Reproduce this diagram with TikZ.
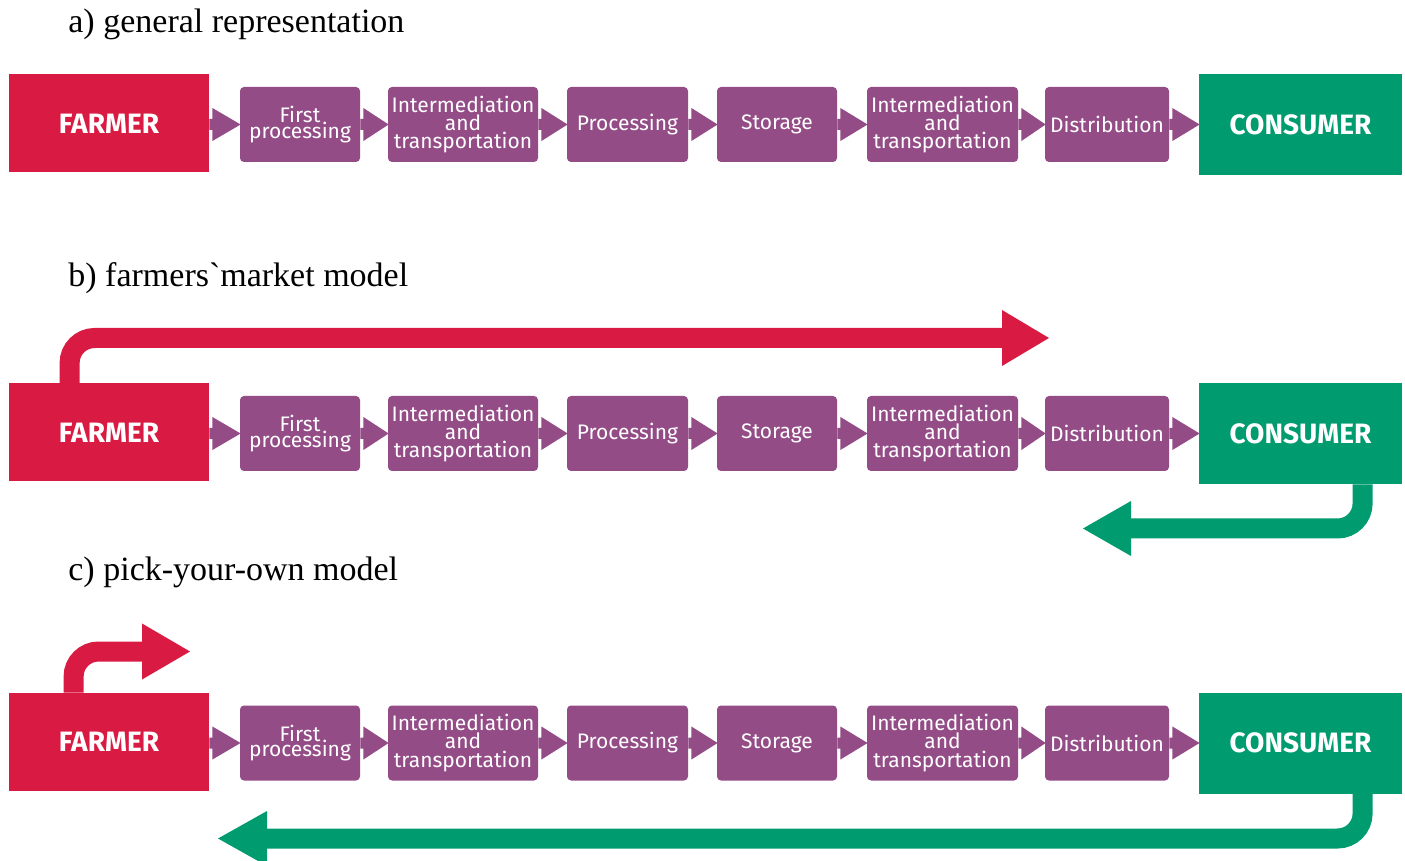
\documentclass[tikz,border=0pt]{standalone}
\usepackage{fontspec}
\setmainfont{Liberation Serif}
\newfontfamily\boxfont{Fira Sans}
\usetikzlibrary{calc,backgrounds}
\definecolor{farmred}{RGB}{217,26,66}
\definecolor{consgreen}{RGB}{0,155,110}
\definecolor{procpurple}{RGB}{148,76,135}
\setlength{\lineskiplimit}{-50pt}
\begin{document}
\begin{tikzpicture}[x=0.5pt,y=-0.5pt,
  farmerbox/.style={fill=farmred, text=white, minimum width=100pt, minimum height=49pt, inner sep=0pt,
    font=\boxfont\bfseries\fontsize{14}{16}\selectfont},
  consbox/.style={fill=consgreen, text=white, minimum width=101.5pt, minimum height=50.5pt, inner sep=0pt,
    font=\boxfont\bfseries\fontsize{14}{16}\selectfont},
  procbox/.style={fill=procpurple, text=white, rounded corners=2pt, minimum height=37.5pt, inner sep=0pt,
    align=center, font=\boxfont\fontsize{10.5}{9.2}\selectfont},
  heading/.style={anchor=base west, inner sep=0pt, font=\fontsize{17}{20}\selectfont},
  chev/.style={fill=procpurple},
  redflow/.style={draw=farmred, line width=10pt, rounded corners=12.5pt},
  greenflow/.style={draw=consgreen, line width=10pt, rounded corners=12.5pt}
]
\useasboundingbox (0,0) rectangle (1405,861);
\clip (0,0) rectangle (1405,861);

% headings
\node[heading] (ha) at (68,33) {a) general representation};
\node[heading] (hb) at (68,287) {b) farmers\textasciigrave market model};
\node[heading] (hc) at (68,581) {c) pick-your-own model};

\foreach \r/\yc/\yf in {a/124.5/123.5,b/433.5/432.5,c/743/742}{
  \node[farmerbox] (fa\r) at (109,\yf) {FARMER};
  \node[consbox] (co\r) at (1300.5,\yc) {CONSUMER};
  \node[procbox, minimum width=60pt] (p\r1) at (300,\yc) {First\\[-1.4pt]processing};
  \node[procbox, minimum width=75pt] (p\r2) at (463,\yc) {Intermediation\\and\\transportation};
  \node[procbox, minimum width=60.5pt] (p\r3) at (627.5,\yc) {Processing};
  \node[procbox, minimum width=60pt] (p\r4) at (777,\yc) {Storage};
  \node[procbox, minimum width=75.5pt] (p\r5) at (942.5,\yc) {Intermediation\\and\\transportation};
  \node[procbox, minimum width=62pt] (p\r6) at (1107,\yc) {Distribution};
}

\begin{scope}[on background layer]
\foreach \A/\B in {faa/pa1, pa1/pa2, pa2/pa3, pa3/pa4, pa4/pa5, pa5/pa6, pa6/coa,
                   fab/pb1, pb1/pb2, pb2/pb3, pb3/pb4, pb4/pb5, pb5/pb6, pb6/cob,
                   fac/pc1, pc1/pc2, pc2/pc3, pc3/pc4, pc4/pc5, pc5/pc6, pc6/coc}{
  \fill[chev] ($(\A.east |- \B.west)+(0,-5.5)$) -- ++(3,0) -- ++(0,-11)
     -- ($(\B.west)+(1,0)$) -- ($(\A.east |- \B.west)+(3,16.5)$) -- ++(0,-11)
     -- ($(\A.east |- \B.west)+(0,5.5)$) -- cycle;
}
\end{scope}

% b) farmers' market: farmer -> far right
\coordinate (rbb) at (1002,338);
\draw[redflow] ($(fab.north west)+(61,0)$) |- (rbb);
\fill[farmred] (1002,310) -- (1049,338) coordinate (rbtip) -- (1002,366) -- cycle;

% b) consumer back
\coordinate (gbb) at (1131,528.5);
\draw[greenflow] ($(cob.south west)+(164,0)$) |- (gbb);
\fill[consgreen] (1131,501) -- (1083,528.5) coordinate (gbtip) -- (1131,556) -- cycle;

% c) pick-your-own: short red
\coordinate (rcb) at (142,651.5);
\draw[redflow] ($(fac.north west)+(65,0)$) |- (rcb);
\fill[farmred] (142,623.5) -- (190,651.5) coordinate (rctip) -- (142,679.5) -- cycle;

% c) consumer all the way back
\coordinate (gcb) at (267,838.5);
\draw[greenflow] ($(coc.south west)+(164,0)$) |- (gcb);
\fill[consgreen] (267,811) -- (218,838.5) coordinate (gctip) -- (267,866) -- cycle;
\end{tikzpicture}
\end{document}
